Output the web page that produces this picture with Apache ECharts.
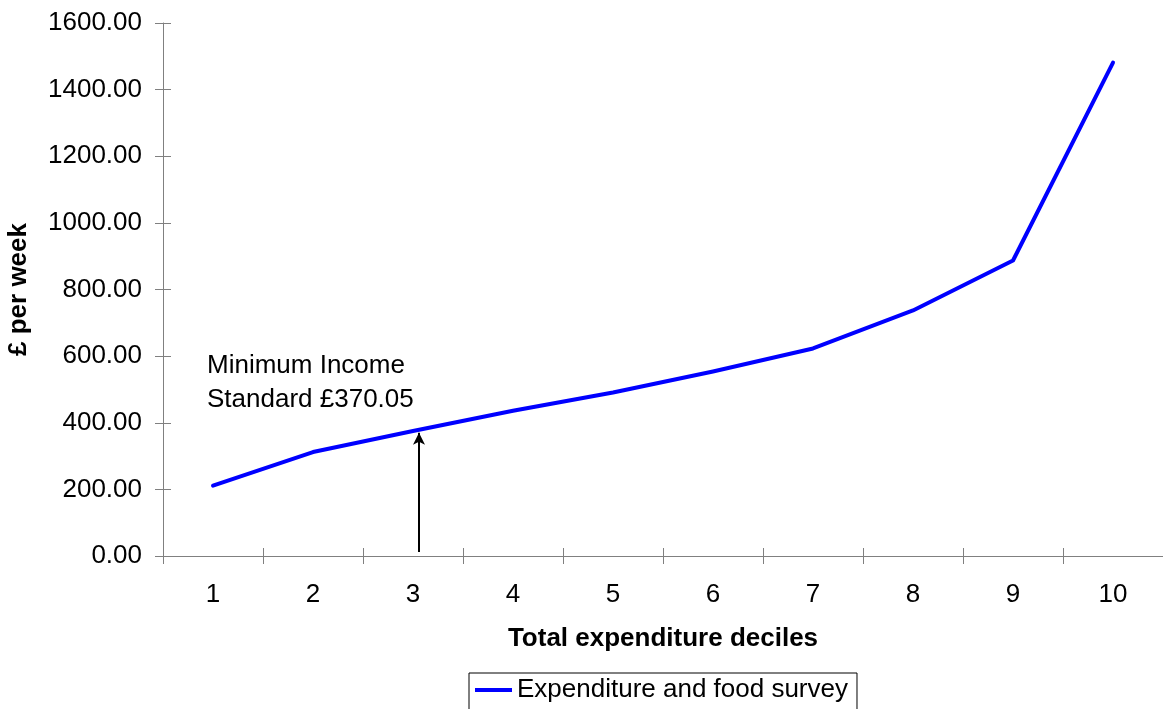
<!DOCTYPE html>
<html>
<head>
<meta charset="utf-8">
<script src="https://cdn.jsdelivr.net/npm/echarts@6/dist/echarts.min.js"></script>
<style>
  html, body { margin: 0; padding: 0; background: #fff; }
  #chart { width: 1163px; height: 709px; }
</style>
</head>
<body>
<div id="chart"></div>
<script>
// Weekly spending by total expenditure decile
const deciles = ['1', '2', '3', '4', '5', '6', '7', '8', '9', '10'];
const spending = [211, 312, 375, 436, 491, 554, 623, 737, 887, 1481];
const seriesName = 'Expenditure and food survey';

// Minimum Income Standard marker
const misValue = 370.05;
const misDecilePos = 3.06;   // horizontal position on a 0.5..10.5 scale
const misBase = 12;
const misText = 'Minimum Income\nStandard £370.05';

const yTicks = { min: 0, max: 1600, interval: 200 };

const FONT = 'Liberation Sans, Arial, sans-serif';
const AXIS_GREY = '#808080';
const FS = 26;

const chart = echarts.init(document.getElementById('chart'), null, { renderer: 'canvas' });

chart.setOption({
  animation: false,
  backgroundColor: '#ffffff',
  textStyle: { fontFamily: FONT },
  grid: {
    left: 163, right: 0, top: 23, bottom: 153,
    containLabel: false,
    outerBoundsMode: 'none'
  },
  xAxis: [
    {
      type: 'category',
      data: deciles,
      boundaryGap: true,
      name: 'Total expenditure deciles',
      nameLocation: 'middle',
      nameGap: 70,
      nameTextStyle: { fontFamily: FONT, fontSize: FS, fontWeight: 'bold', color: '#000' },
      axisLine: { lineStyle: { color: AXIS_GREY, width: 1 } },
      axisTick: { show: true, length: 8, alignWithLabel: false, lineStyle: { color: AXIS_GREY } },
      axisLabel: { fontFamily: FONT, fontSize: FS, color: '#000', margin: 26 },
      splitLine: { show: false }
    },
    {
      // inner half of the crossing tick marks
      type: 'category',
      data: deciles,
      boundaryGap: true,
      position: 'bottom',
      axisLine: { show: false },
      axisTick: { show: true, inside: true, length: 8, lineStyle: { color: AXIS_GREY } },
      axisLabel: { show: false },
      splitLine: { show: false }
    },
    {
      // continuous scale used for the marker arrow
      type: 'value',
      min: 0.5,
      max: 10.5,
      show: false
    }
  ],
  yAxis: [
    {
      type: 'value',
      min: yTicks.min,
      max: yTicks.max,
      interval: yTicks.interval,
      name: '£ per week',
      nameLocation: 'middle',
      nameGap: 131,
      nameRotate: 90,
      nameTextStyle: { fontFamily: FONT, fontSize: FS, fontWeight: 'bold', color: '#000' },
      axisLine: { show: true, lineStyle: { color: AXIS_GREY, width: 1 } },
      axisTick: { show: true, length: 8, lineStyle: { color: AXIS_GREY } },
      axisLabel: {
        fontFamily: FONT, fontSize: FS, color: '#000', margin: 21,
        formatter: v => v.toFixed(2)
      },
      splitLine: { show: false }
    },
    {
      type: 'value',
      min: yTicks.min,
      max: yTicks.max,
      interval: yTicks.interval,
      position: 'left',
      axisLine: { show: false },
      axisTick: { show: true, inside: true, length: 8, lineStyle: { color: AXIS_GREY } },
      axisLabel: { show: false },
      splitLine: { show: false }
    }
  ],
  legend: {
    data: [{ name: seriesName, icon: 'rect' }],
    left: 469,
    top: 673,
    orient: 'horizontal',
    itemWidth: 37,
    itemHeight: 4,
    padding: [4, 9, 8, 6],
    borderColor: '#000',
    borderWidth: 1,
    textStyle: { fontFamily: FONT, fontSize: FS, color: '#000' }
  },
  series: [
    {
      name: seriesName,
      type: 'line',
      xAxisIndex: 0,
      yAxisIndex: 0,
      data: spending,
      showSymbol: false,
      symbol: 'none',
      lineStyle: { color: '#0000ff', width: 4, cap: 'round', join: 'round' },
      itemStyle: { color: '#0000ff' }
    },
    {
      name: 'mis-arrow',
      type: 'line',
      xAxisIndex: 2,
      yAxisIndex: 0,
      data: [],
      silent: true,
      markLine: {
        silent: true,
        animation: false,
        symbol: ['none', 'arrow'],
        symbolSize: [9, 12],
        label: { show: false },
        lineStyle: { color: '#000', width: 2, type: 'solid' },
        data: [[
          { coord: [misDecilePos, misBase] },
          { coord: [misDecilePos, misValue] }
        ]]
      }
    }
  ],
  graphic: [
    {
      type: 'text',
      left: 207,
      top: 349,
      style: {
        text: misText,
        font: FS + 'px ' + FONT,
        fill: '#000',
        lineHeight: 34
      }
    }
  ]
});
</script>
</body>
</html>
